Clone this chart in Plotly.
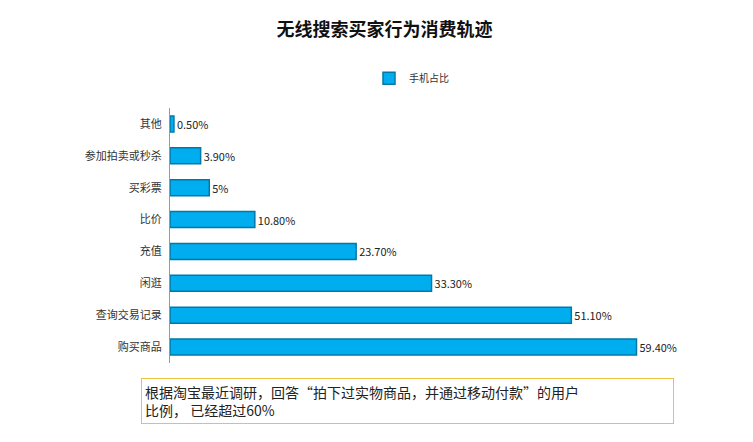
import plotly.graph_objects as go

# 数据
categories = ['购买商品', '查询交易记录', '闲逛', '充值', '比价', '买彩票', '参加拍卖或秒杀', '其他']
values = [59.4, 51.1, 33.3, 23.7, 10.8, 5, 3.9, 0.5]
labels = ['59.40%', '51.10%', '33.30%', '23.70%', '10.80%', '5%', '3.90%', '0.50%']

fig = go.Figure()
fig.add_trace(go.Bar(
    y=categories, x=values, orientation='h', name='手机占比',
    text=labels, textposition='outside', cliponaxis=False,
    textfont=dict(size=11, color='#222'),
    marker=dict(color='#00AEEF', line=dict(color='#0078A8', width=1.5)),
))

fig.update_layout(
    width=753, height=442,
    paper_bgcolor='white', plot_bgcolor='white',
    font=dict(family='Noto Sans CJK SC', size=11, color='#333'),
    title=dict(text='<b>无线搜索买家行为消费轨迹</b>', x=0.5, y=0.965,
               xanchor='center', font=dict(size=18, color='#111')),
    showlegend=True,
    legend=dict(orientation='h', x=0.5, xanchor='center', y=1.06, yanchor='bottom',
                font=dict(size=10), itemwidth=30),
    margin=dict(l=162, r=108, t=100, b=87),
    bargap=0.5,
    xaxis=dict(range=[0, 61.5], visible=False),
    yaxis=dict(showline=True, linecolor='#999', linewidth=1, ticks='', ticksuffix='  '),
    annotations=[dict(
        text='根据淘宝最近调研，回答“拍下过实物商品，并通过移动付款”的用户<br>比例， 已经超过60%',
        xref='paper', yref='paper', x=-0.06, y=-0.06, xanchor='left', yanchor='top',
        showarrow=False, align='left', font=dict(size=14, color='#222'),
        bordercolor='#F0C040', borderwidth=1, bgcolor='white', width=525, borderpad=3,
    )],
)

fig.write_html('out.html')
